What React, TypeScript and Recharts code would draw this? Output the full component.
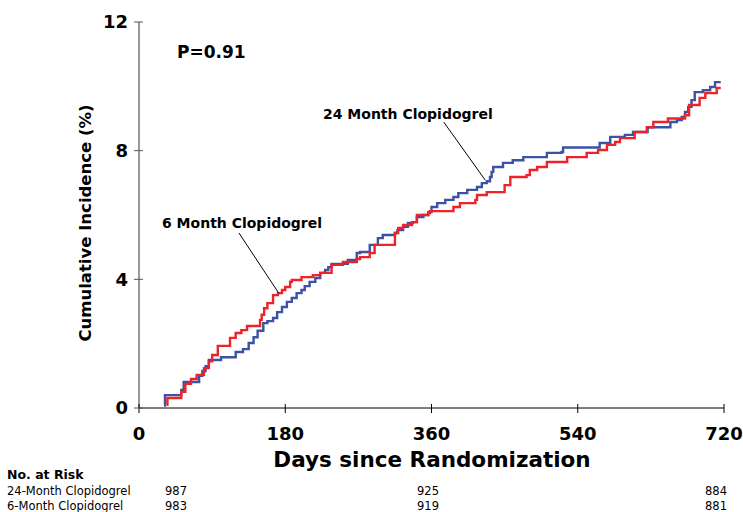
import React from "react";
import { ComposedChart, Line, XAxis, YAxis, ReferenceLine } from "recharts";

// Kaplan-Meier style cumulative incidence (day, %)
const days24 = [31,32,52,55,74,78,82,86,101,119,128,135,141,146,153,158,165,170,176,182,188,194,200,204,210,217,223,229,233,237,257,268,272,284,294,300,315,318,325,331,337,342,350,356,360,367,377,387,393,404,416,422,428,432,434,436,448,460,473,502,520,522,567,580,598,608,626,654,662,668,672,676,680,684,694,703,709,716];
const vals24 = [0.08,0.4,0.56,0.81,1.0,1.15,1.3,1.49,1.58,1.74,1.83,2.02,2.2,2.4,2.64,2.7,2.8,2.98,3.14,3.3,3.42,3.57,3.67,3.79,3.92,4.04,4.2,4.29,4.38,4.48,4.6,4.82,4.85,5.07,5.28,5.38,5.44,5.53,5.63,5.75,5.78,5.94,6.0,6.09,6.25,6.37,6.47,6.56,6.68,6.78,6.87,6.99,7.05,7.18,7.34,7.49,7.62,7.7,7.8,7.93,7.96,8.1,8.24,8.43,8.49,8.58,8.73,8.89,8.95,9.05,9.2,9.36,9.57,9.82,9.88,9.98,10.13,10.13];

const days6 = [34,35,52,57,64,71,80,86,90,97,112,119,126,133,149,151,154,158,165,171,176,180,186,188,200,214,223,237,251,268,272,284,290,315,319,325,336,342,356,358,387,395,414,416,428,450,457,477,481,490,502,527,551,565,576,586,592,610,625,633,651,672,677,690,697,711,716];
const vals6 = [0.1,0.31,0.5,0.75,0.9,1.03,1.24,1.45,1.65,1.93,2.18,2.33,2.42,2.55,2.74,2.9,3.1,3.26,3.51,3.57,3.67,3.76,3.92,3.98,4.07,4.13,4.2,4.45,4.54,4.63,4.69,4.82,5.07,5.44,5.6,5.69,5.78,6.0,6.06,6.12,6.25,6.37,6.47,6.62,6.71,6.93,7.18,7.24,7.4,7.49,7.65,7.8,7.93,8.02,8.18,8.27,8.39,8.58,8.73,8.89,9.0,9.1,9.42,9.64,9.79,9.95,9.95];

const xTicks = [0, 180, 360, 540, 720];
const yTicks = [0, 4, 8, 12];

const riskGroups = ["24-Month Clopidogrel", "6-Month Clopidogrel"];
const risk24 = [987, 925, 884];
const risk6 = [983, 919, 881];

const data24 = days24.map((d, i) => ({ day: d, v: vals24[i] }));
const data6 = days6.map((d, i) => ({ day: d, v: vals6[i] }));

const BLUE = "#3c52a3";
const RED = "#ee2229";
const BOLD = "'DejaVu Sans', Verdana, sans-serif";
const TABLE = "'DejaVu Sans', Tahoma, sans-serif";

const XTick = (p: any) => {
  const { x, y, payload } = p;
  const ay = y - 19;
  return (
    <g>
      <line x1={x} x2={x} y1={ay - 4} y2={ay + 5} stroke="#000" strokeWidth={1} />
      <text x={x} y={y} dy="0.71em" textAnchor="middle" fontFamily={BOLD} fontWeight="bold" fontSize={18} fill="#000">
        {payload.value}
      </text>
    </g>
  );
};

const YTick = (p: any) => {
  const { x, y, payload } = p;
  const ax = x + 11;
  return (
    <g>
      <line x1={ax - 5} x2={ax + 4} y1={y} y2={y} stroke="#555" strokeWidth={1} />
      <text x={x} y={y} dy="0.355em" textAnchor="end" fontFamily={BOLD} fontWeight="bold" fontSize={18} fill="#000">
        {payload.value}
      </text>
    </g>
  );
};

export default function App() {
  return (
    <div style={{ position: "absolute", left: 0, top: 0, width: 743, height: 512, background: "#fff", overflow: "hidden" }}>
      <ComposedChart width={743} height={512} margin={{ top: 22, right: 19, bottom: 74, left: 79 }}>
        <XAxis
          type="number"
          dataKey="day"
          domain={[0, 720]}
          ticks={xTicks}
          allowDataOverflow
          height={30}
          tickLine={false}
          tickSize={5}
          tickMargin={14}
          axisLine={{ stroke: "#000", strokeWidth: 1 }}
          tick={<XTick />}
        />
        <YAxis
          type="number"
          domain={[0, 12]}
          ticks={yTicks}
          width={60}
          tickLine={false}
          tickSize={4}
          tickMargin={7}
          axisLine={{ stroke: "#555", strokeWidth: 1.2 }}
          tick={<YTick />}
        />
        <Line data={data24} dataKey="v" type="stepAfter" stroke={BLUE} strokeWidth={2.4} dot={false} isAnimationActive={false} />
        <Line data={data6} dataKey="v" type="stepAfter" stroke={RED} strokeWidth={2.4} dot={false} isAnimationActive={false} />
        <ReferenceLine segment={[{ x: 375, y: 8.89 }, { x: 426, y: 7.09 }]} stroke="#000" strokeWidth={1} ifOverflow="visible" />
        <ReferenceLine segment={[{ x: 123, y: 5.44 }, { x: 172, y: 3.57 }]} stroke="#000" strokeWidth={1} ifOverflow="visible" />
      </ComposedChart>
      <svg width={743} height={512} style={{ position: "absolute", left: 0, top: 0, pointerEvents: "none" }}>
        <text x={85} y={223} transform="rotate(-90 85 223)" dy="0.35em" textAnchor="middle" fontFamily={BOLD} fontWeight="bold" fontSize={16.5} fill="#000">
          Cumulative Incidence (%)
        </text>
        <text x={432} y={467} textAnchor="middle" fontFamily={BOLD} fontWeight="bold" fontSize={21.5} fill="#000">
          Days since Randomization
        </text>
        <text x={177} y={58} fontFamily={BOLD} fontWeight="bold" fontSize={17} fill="#000">
          P=0.91
        </text>
        <text x={323} y={119} fontFamily={BOLD} fontWeight="bold" fontSize={14} fill="#000">
          24 Month Clopidogrel
        </text>
        <text x={162} y={228} fontFamily={BOLD} fontWeight="bold" fontSize={14} fill="#000">
          6 Month Clopidogrel
        </text>
        <text x={7} y={479} fontFamily={TABLE} fontWeight="bold" fontSize={12.5} fill="#000">
          No. at Risk
        </text>
        <text x={7} y={495} fontFamily={TABLE} fontSize={11.5} fill="#000">{riskGroups[0]}</text>
        <text x={7} y={510} fontFamily={TABLE} fontSize={11.5} fill="#000">{riskGroups[1]}</text>
        <text x={176} y={495} textAnchor="middle" fontFamily={TABLE} fontSize={11.5} fill="#000">{risk24[0]}</text>
        <text x={428} y={495} textAnchor="middle" fontFamily={TABLE} fontSize={11.5} fill="#000">{risk24[1]}</text>
        <text x={716} y={495} textAnchor="middle" fontFamily={TABLE} fontSize={11.5} fill="#000">{risk24[2]}</text>
        <text x={176} y={510} textAnchor="middle" fontFamily={TABLE} fontSize={11.5} fill="#000">{risk6[0]}</text>
        <text x={428} y={510} textAnchor="middle" fontFamily={TABLE} fontSize={11.5} fill="#000">{risk6[1]}</text>
        <text x={716} y={510} textAnchor="middle" fontFamily={TABLE} fontSize={11.5} fill="#000">{risk6[2]}</text>
      </svg>
    </div>
  );
}
